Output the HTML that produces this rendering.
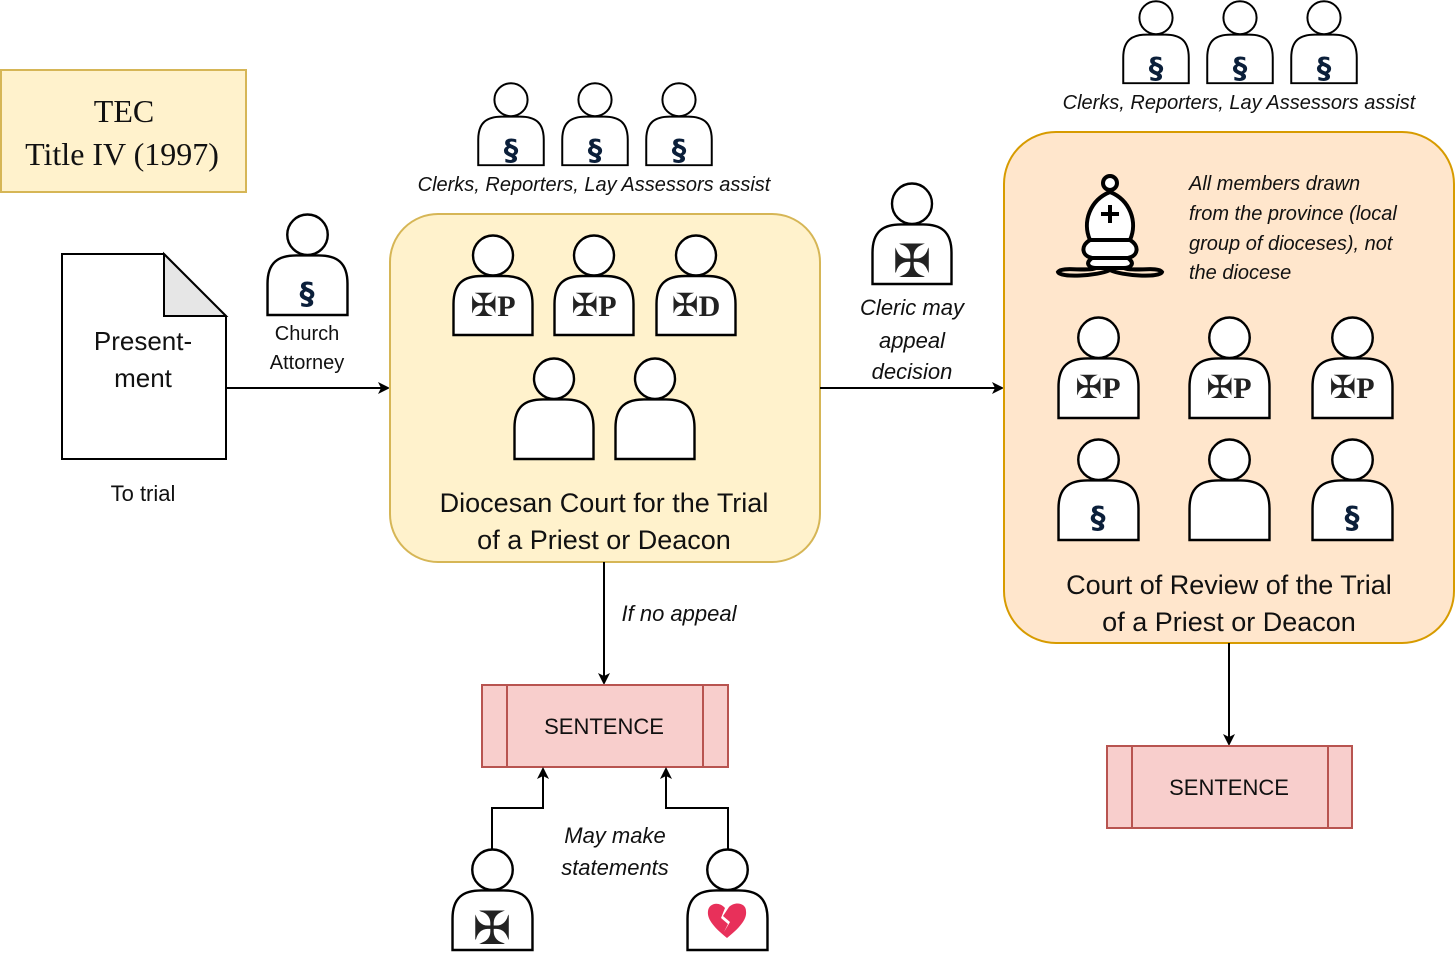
<!DOCTYPE html>
<html><head><meta charset="utf-8"><style>
html,body{margin:0;padding:0;background:#fff}
svg{display:block}
text{font-family:"Liberation Sans",sans-serif;fill:#111}
.it{font-style:italic;font-size:20px}
.sec{font-family:"DejaVu Sans","Liberation Sans",sans-serif;font-weight:bold;fill:#0b1f3a;font-size:30px}
.cr{font-family:"DejaVu Sans",sans-serif;font-size:32px;fill:#222}
.big{font-family:"DejaVu Sans",sans-serif;font-size:46px;fill:#222}
.pl{font-family:"Liberation Serif",serif;font-weight:bold;font-size:30px;fill:#222}
</style></head><body>
<svg width="1456" height="956" viewBox="0 0 1456 956" xmlns="http://www.w3.org/2000/svg">
<defs>
<symbol id="p" viewBox="0 0 82 102" preserveAspectRatio="none" overflow="visible">
<path d="M1.5,101 L1.5,70 C1.5,49 12,42 30,42 L52,42 C70,42 80.5,49 80.5,70 L80.5,101 Z" fill="#fff" stroke="#000" stroke-width="2.4"/>
<circle cx="41" cy="21.5" r="20" fill="#fff" stroke="#000" stroke-width="2.4"/>
</symbol>
<marker id="a" markerWidth="12" markerHeight="12" refX="10" refY="6" orient="auto" markerUnits="userSpaceOnUse">
<path d="M0,0 L12,6 L0,12 L3,6 Z" fill="#000"/></marker>
</defs>

<rect x="1" y="70" width="245" height="122" fill="#fff2cc" stroke="#d6b656" stroke-width="2"/>
<text x="124" y="122" text-anchor="middle" style="font-family:'Liberation Serif',serif;font-size:32px">TEC</text>
<text x="122" y="165" text-anchor="middle" style="font-family:'Liberation Serif',serif;font-size:32px">Title IV (1997)</text>

<path d="M62,254 H164 L226,316 V459 H62 Z" fill="#fff" stroke="#000" stroke-width="2"/>
<path d="M164,254 V316 H226 Z" fill="#e6e6e6" stroke="#000" stroke-width="2"/>
<text x="143" y="350" text-anchor="middle" style="font-size:26px">Present-</text>
<text x="143" y="387" text-anchor="middle" style="font-size:26px">ment</text>
<text x="143" y="501" text-anchor="middle" style="font-size:22px">To trial</text>

<use href="#p" x="266" y="213" width="83" height="103"/>
<text x="307" y="304" text-anchor="middle" class="sec">§</text>
<text x="307" y="340" text-anchor="middle" style="font-size:20px">Church</text>
<text x="307" y="369" text-anchor="middle" style="font-size:20px">Attorney</text>
<line x1="226" y1="388" x2="388" y2="388" stroke="#000" stroke-width="2" marker-end="url(#a)"/>

<use href="#p" x="477" y="82" width="68" height="84"/>
<use href="#p" x="561" y="82" width="68" height="84"/>
<use href="#p" x="645" y="82" width="68" height="84"/>
<text x="511" y="160" text-anchor="middle" class="sec" style="font-size:29px">§</text>
<text x="595" y="160" text-anchor="middle" class="sec" style="font-size:29px">§</text>
<text x="679" y="160" text-anchor="middle" class="sec" style="font-size:29px">§</text>
<text x="594" y="191" text-anchor="middle" class="it">Clerks, Reporters, Lay Assessors assist</text>

<rect x="390" y="214" width="430" height="348" rx="48" fill="#fff2cc" stroke="#d6b656" stroke-width="2"/>
<use href="#p" x="452" y="234" width="82" height="102"/>
<use href="#p" x="553" y="234" width="82" height="102"/>
<use href="#p" x="655" y="234" width="82" height="102"/>
<text x="493" y="316" text-anchor="middle"><tspan class="cr">✠</tspan><tspan class="pl">P</tspan></text>
<text x="594" y="316" text-anchor="middle"><tspan class="cr">✠</tspan><tspan class="pl">P</tspan></text>
<text x="696" y="316" text-anchor="middle"><tspan class="cr">✠</tspan><tspan class="pl">D</tspan></text>
<use href="#p" x="513" y="357" width="82" height="103"/>
<use href="#p" x="614" y="357" width="82" height="103"/>
<text x="604" y="512" text-anchor="middle" style="font-size:27px">Diocesan Court for the Trial</text>
<text x="604" y="549" text-anchor="middle" style="font-size:27px">of a Priest or Deacon</text>

<use href="#p" x="871" y="182" width="82" height="103"/>
<text x="912" y="277" text-anchor="middle" class="big">✠</text>
<text x="912" y="315" text-anchor="middle" class="it" style="font-size:22px">Cleric may</text>
<text x="912" y="348" text-anchor="middle" class="it" style="font-size:22px">appeal</text>
<text x="912" y="379" text-anchor="middle" class="it" style="font-size:22px">decision</text>
<line x1="820" y1="388" x2="1002" y2="388" stroke="#000" stroke-width="2" marker-end="url(#a)"/>

<use href="#p" x="1122" y="0" width="68" height="84"/>
<use href="#p" x="1206" y="0" width="68" height="84"/>
<use href="#p" x="1290" y="0" width="68" height="84"/>
<text x="1156" y="78" text-anchor="middle" class="sec" style="font-size:29px">§</text>
<text x="1240" y="78" text-anchor="middle" class="sec" style="font-size:29px">§</text>
<text x="1324" y="78" text-anchor="middle" class="sec" style="font-size:29px">§</text>
<text x="1239" y="109" text-anchor="middle" class="it">Clerks, Reporters, Lay Assessors assist</text>

<rect x="1004" y="132" width="450" height="511" rx="52" fill="#ffe6cc" stroke="#d79b00" stroke-width="2"/>
<g fill="#fff" stroke="#000" stroke-width="4">
<circle cx="1110" cy="183" r="7"/>
<path d="M1110,192 C1090,200 1082,222 1090,240 L1130,240 C1138,222 1130,200 1110,192 Z"/>
<path d="M1090,240 C1080,246 1082,256 1092,258 C1084,264 1090,268 1096,268 L1124,268 C1130,268 1136,264 1128,258 C1138,256 1140,246 1130,240 Z"/>
<path d="M1096,268 C1086,272 1062,266 1058,272 C1060,278 1098,276 1110,270 C1122,276 1160,278 1162,272 C1158,266 1134,272 1124,268" fill="none"/>
<line x1="1090" y1="258" x2="1130" y2="258"/>
</g>
<path d="M1110,205 V223 M1101,214 H1119" stroke="#000" stroke-width="4"/>
<text x="1189" y="190" class="it">All members drawn</text>
<text x="1189" y="220" class="it">from the province (local</text>
<text x="1189" y="250" class="it">group of dioceses), not</text>
<text x="1189" y="279" class="it">the diocese</text>
<use href="#p" x="1057" y="316" width="83" height="103"/>
<use href="#p" x="1188" y="316" width="83" height="103"/>
<use href="#p" x="1311" y="316" width="83" height="103"/>
<text x="1098" y="398" text-anchor="middle"><tspan class="cr">✠</tspan><tspan class="pl">P</tspan></text>
<text x="1229" y="398" text-anchor="middle"><tspan class="cr">✠</tspan><tspan class="pl">P</tspan></text>
<text x="1352" y="398" text-anchor="middle"><tspan class="cr">✠</tspan><tspan class="pl">P</tspan></text>
<use href="#p" x="1057" y="438" width="83" height="103"/>
<use href="#p" x="1188" y="438" width="83" height="103"/>
<use href="#p" x="1311" y="438" width="83" height="103"/>
<text x="1098" y="528" text-anchor="middle" class="sec">§</text>
<text x="1352" y="528" text-anchor="middle" class="sec">§</text>
<text x="1229" y="594" text-anchor="middle" style="font-size:27px">Court of Review of the Trial</text>
<text x="1229" y="631" text-anchor="middle" style="font-size:27px">of a Priest or Deacon</text>

<line x1="1229" y1="643" x2="1229" y2="744" stroke="#000" stroke-width="2" marker-end="url(#a)"/>
<rect x="1107" y="746" width="245" height="82" fill="#f8cecc" stroke="#b85450" stroke-width="2"/>
<line x1="1132" y1="746" x2="1132" y2="828" stroke="#b85450" stroke-width="2"/>
<line x1="1328" y1="746" x2="1328" y2="828" stroke="#b85450" stroke-width="2"/>
<text x="1229" y="795" text-anchor="middle" style="font-size:22px">SENTENCE</text>

<line x1="604" y1="562" x2="604" y2="683" stroke="#000" stroke-width="2" marker-end="url(#a)"/>
<text x="679" y="621" text-anchor="middle" class="it" style="font-size:22px">If no appeal</text>
<rect x="482" y="685" width="246" height="82" fill="#f8cecc" stroke="#b85450" stroke-width="2"/>
<line x1="507" y1="685" x2="507" y2="767" stroke="#b85450" stroke-width="2"/>
<line x1="703" y1="685" x2="703" y2="767" stroke="#b85450" stroke-width="2"/>
<text x="604" y="734" text-anchor="middle" style="font-size:22px">SENTENCE</text>

<path d="M492,849 V808 H543 V769" fill="none" stroke="#000" stroke-width="2" marker-end="url(#a)"/>
<path d="M728,849 V808 H666 V769" fill="none" stroke="#000" stroke-width="2" marker-end="url(#a)"/>
<text x="615" y="843" text-anchor="middle" class="it" style="font-size:22px">May make</text>
<text x="615" y="875" text-anchor="middle" class="it" style="font-size:22px">statements</text>
<use href="#p" x="451" y="848" width="83" height="103"/>
<text x="492" y="944" text-anchor="middle" class="big">✠</text>
<use href="#p" x="686" y="848" width="83" height="103"/>
<path d="M727,938 C712,926 707,918 708,911 C709,903 719,901 725,908 L721,918 L728,924 L724,932 L730,922 L723,916 L729,907 C735,901 746,903 746,911 C747,918 742,926 727,938 Z" fill="#e8305a"/>
</svg>
</body></html>
